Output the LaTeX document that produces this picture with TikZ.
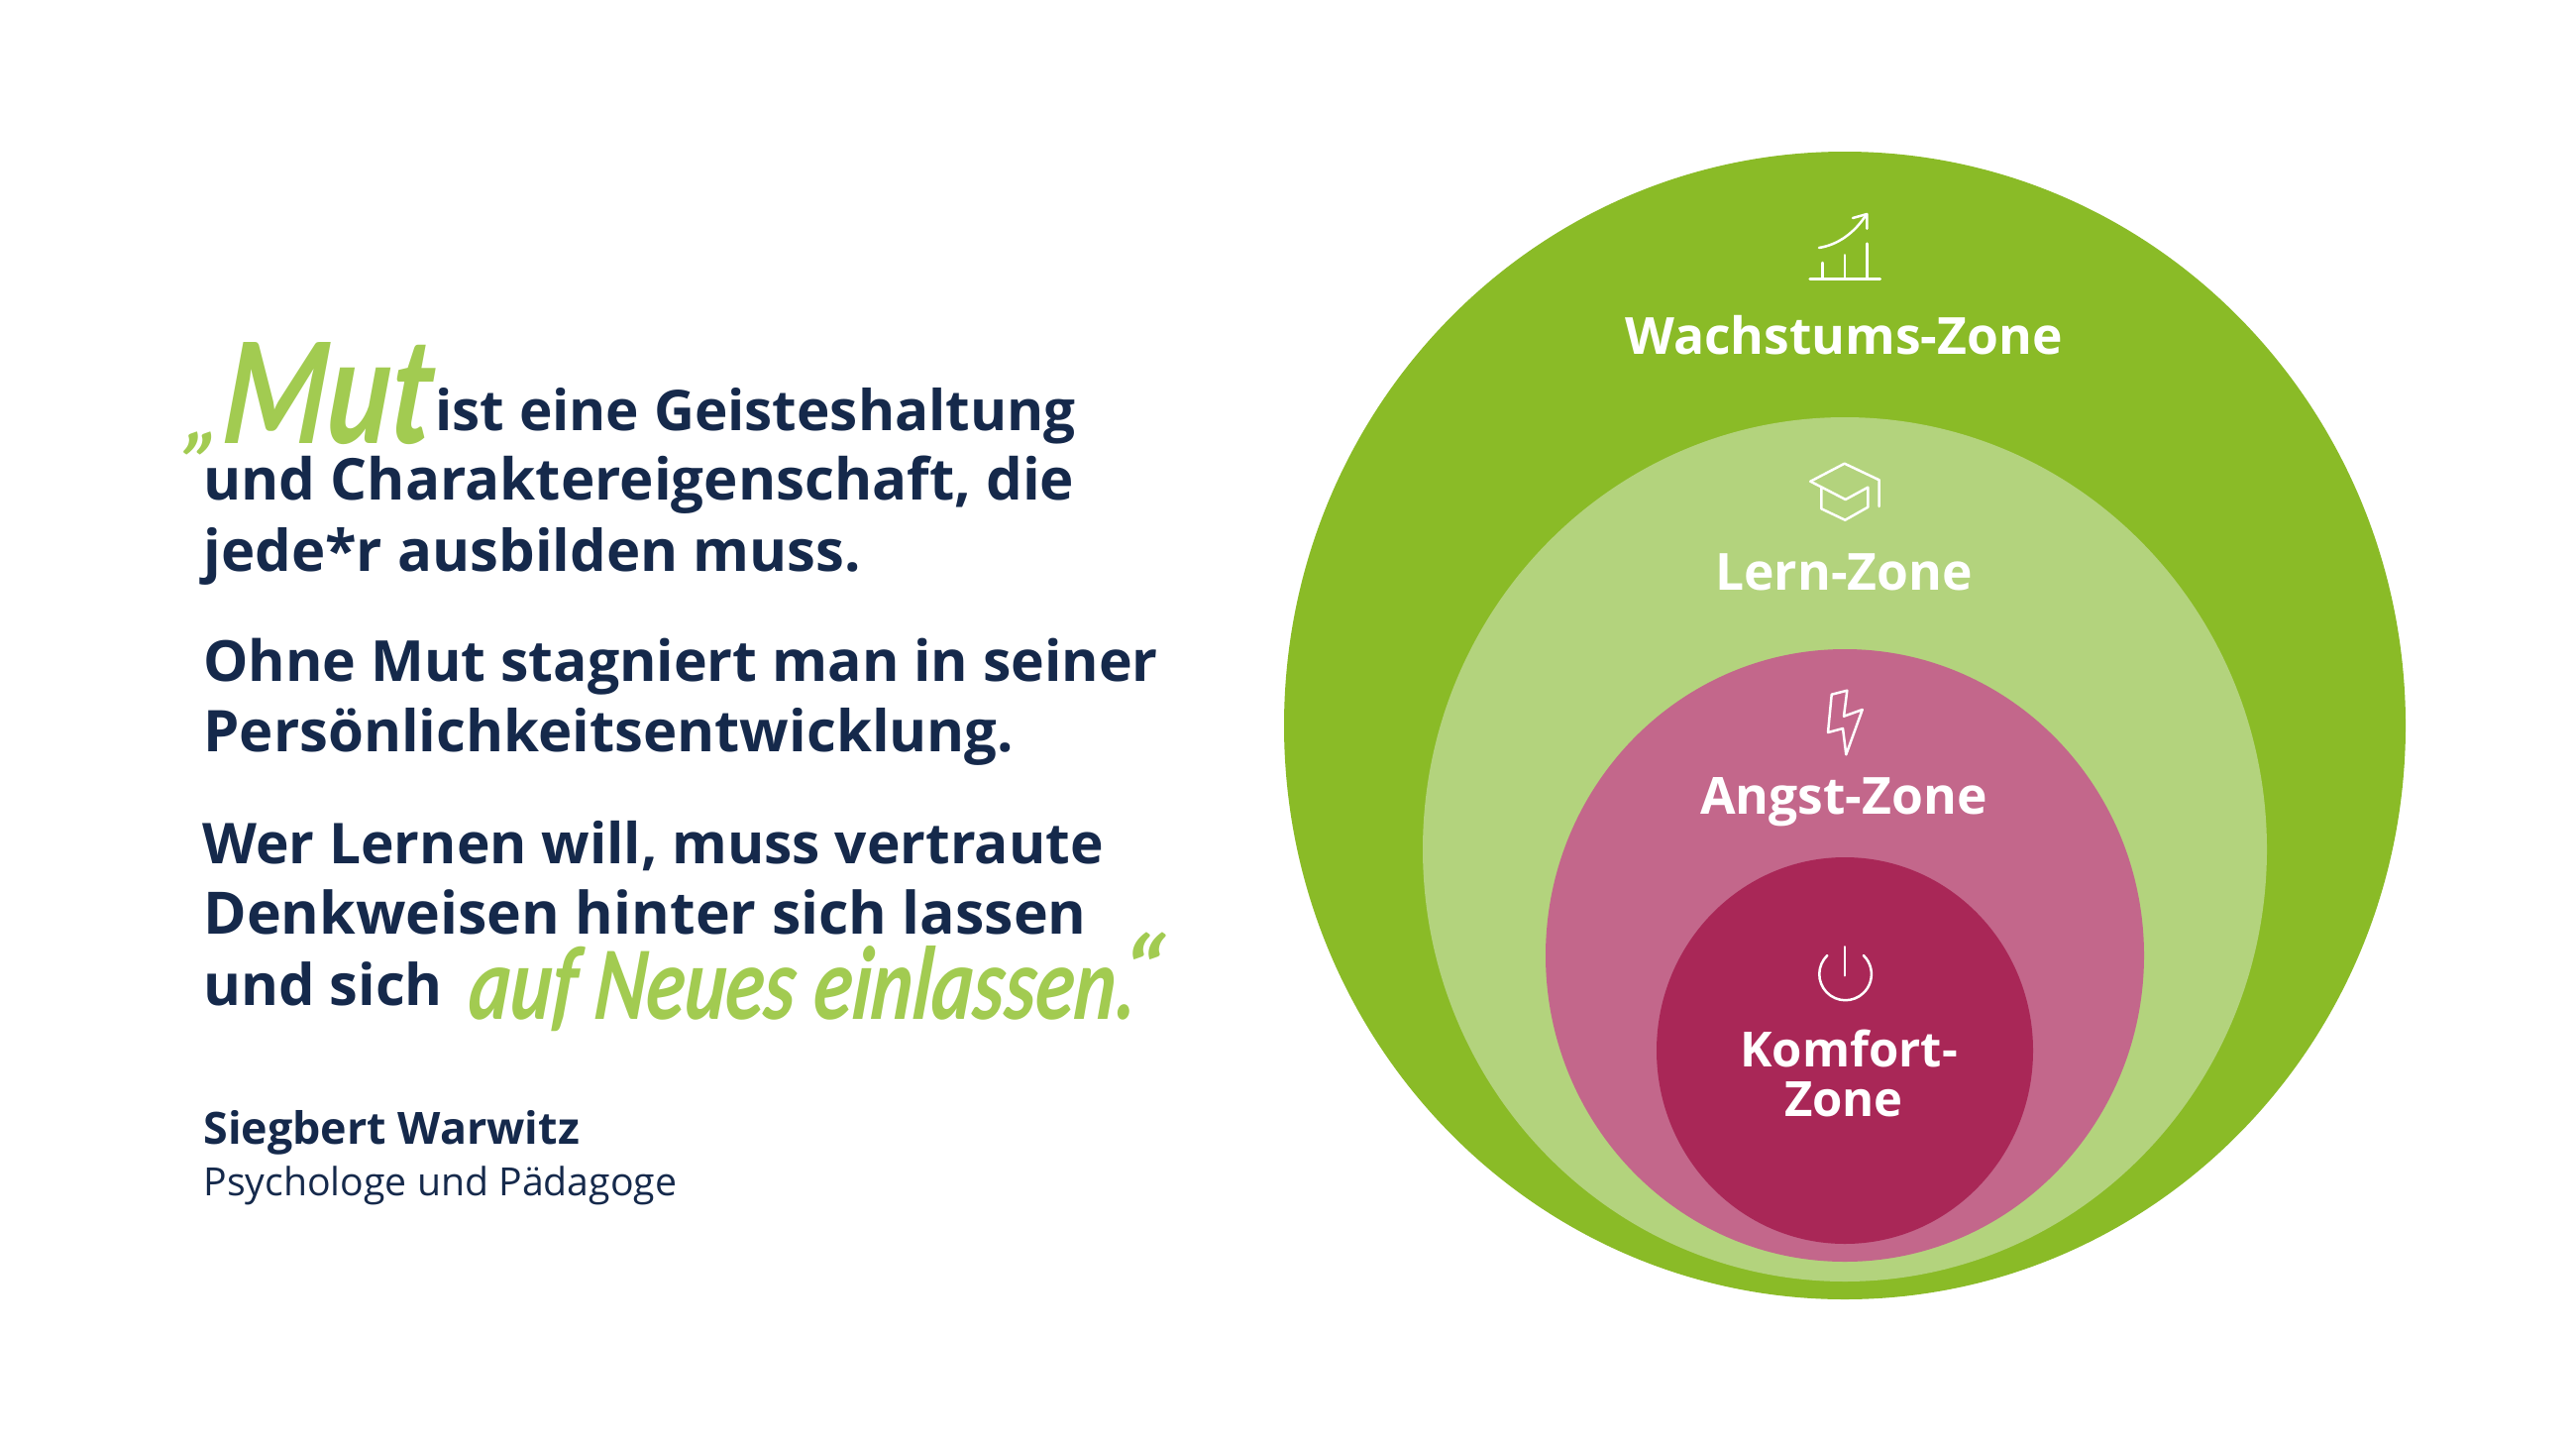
\documentclass[tikz,border=0pt]{standalone}
\usepackage{fontspec}
\usepackage{graphicx}
\setmainfont{Open Sans}
\newfontfamily\handfont[BoldItalicFont={Carlito Bold Italic},BoldItalicFeatures={FakeSlant=0.12}]{Carlito}
\newcommand{\qsize}[1]{\fontsize{#1}{30}\selectfont}
\definecolor{navy}{HTML}{15294B}
\definecolor{zoneA}{HTML}{8ABB27}
\definecolor{zoneB}{HTML}{B3D37D}
\definecolor{zoneC}{HTML}{C3678B}
\definecolor{zoneD}{HTML}{A92757}
\definecolor{scriptgreen}{HTML}{A2CB51}
\tikzset{
  quote/.style={anchor=base west,inner sep=0pt,text=navy,font=\bfseries},
  attrib/.style={anchor=base west,inner sep=0pt,text=navy,font=\fontsize{19.6}{24}\selectfont},
  attribb/.style={anchor=base west,inner sep=0pt,text=navy,font=\fontsize{22.4}{26}\selectfont\bfseries},
  zone/.style={anchor=base,inner sep=0pt,text=white,font=\fontsize{25.8}{30}\selectfont\bfseries},
  zonesmall/.style={zone,font=\fontsize{24.5}{28}\selectfont\bfseries},
  scripttext/.style={anchor=base west,inner sep=0pt,text=scriptgreen,font=\handfont\bfseries\itshape},
  icon/.style={draw=white,line width=1.25pt,line cap=round,line join=round,fill=none}
}
\begin{document}
\begin{tikzpicture}[x=0.5pt,y=-0.5pt]
\useasboundingbox[fill=white] (0,0) rectangle (2600,1461);
% zones
\fill[zoneA] (1862,732) ellipse [x radius=566,y radius=579];
\fill[zoneB] (1862,857) ellipse [x radius=426,y radius=436];
\fill[zoneC] (1862,964) ellipse [x radius=302,y radius=309];
\fill[zoneD] (1862,1060) ellipse [x radius=190,y radius=195];
% quote
\node[scripttext] (qopen) at (185,447) {\fontsize{42}{42}\selectfont „};
\node[scripttext] (mut) at (222,447) {\resizebox{105pt}{51pt}{Mut}};
\node[quote] (l1) at (439,434) {\qsize{28.3}ist eine Geisteshaltung};
\node[quote] (l2) at (205,504) {\qsize{29.1}und Charaktereigenschaft, die};
\node[quote] (l3) at (205,576) {\qsize{29}jede*r ausbilden muss.};
\node[quote] (l4) at (205,687) {\qsize{28.55}Ohne Mut stagniert man in seiner};
\node[quote] (l5) at (205,758) {\qsize{29}Persönlichkeitsentwicklung.};
\node[quote] (l6) at (204,871) {\qsize{28.4}Wer Lernen will, muss vertraute};
\node[quote] (l7) at (205,942) {\qsize{29.5}Denkweisen hinter sich lassen};
\node[quote] (l8) at (205,1014) {\qsize{28.9}und sich};
\node[scripttext] (neu) at (471,1028) {\resizebox{337pt}{37pt}{auf Neues einlassen.}};
\node[scripttext] (qclose) at (1126,1014) {\fontsize{50}{50}\selectfont “};
\node[attribb] (name) at (205,1154) {Siegbert Warwitz};
\node[attrib] (role) at (205,1206) {Psychologe und Pädagoge};
% zone labels
\node[zone] (wz) at (1861,357) {Wachstums-Zone};
\node[zone] (lz) at (1861,595) {Lern-Zone};
\node[zone] (az) at (1861,821) {Angst-Zone};
\node[zonesmall] (kz1) at (1866,1076) {Komfort-};
\node[zonesmall] (kz2) at (1861,1126) {Zone};
% chart icon
\draw[icon] (1826.7,281.7) -- (1897.7,281.7);
\draw[icon] (1839.7,281.7) -- (1839.7,265);
\draw[icon] (1862,281.7) -- (1862,257.3);
\draw[icon] (1884.3,281.7) -- (1884.3,245.7);
\draw[icon] (1836,250) .. controls (1855,247) and (1872,235) .. (1884,216);
\draw[icon] (1870,220) -- (1884.3,216) -- (1884.3,230.7);
% cap icon
\draw[icon] (1827.3,485.7) -- (1861.7,467.7) -- (1896.7,484.3) -- (1896.7,511);
\draw[icon] (1827.3,485.7) -- (1862.7,504) -- (1885.3,491.7) -- (1885.3,511.7) -- (1862.3,524.7) -- (1838.3,513.3) -- (1838.3,492.3);
% bolt icon
\draw[icon] (1848.7,700.7) -- (1864.3,696.7) -- (1861,722.7) -- (1879.7,716) -- (1863.3,761.3) -- (1860,735) -- (1845,739) -- cycle;
% power icon
\draw[icon] (1862,955.3) -- (1862,984.3);
\draw[icon] (1844.3,964) arc [start angle=134,end angle=406,radius=13.15pt];
\end{tikzpicture}
\end{document}
